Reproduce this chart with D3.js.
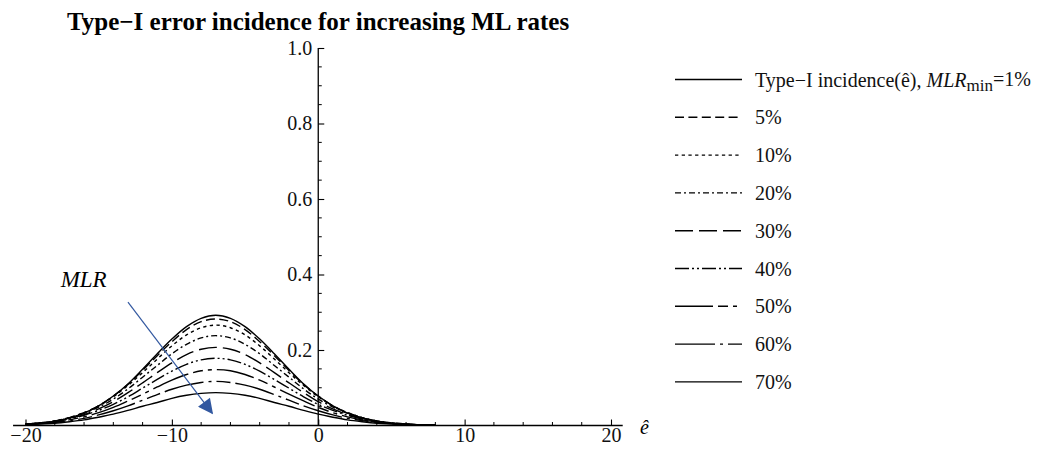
<!DOCTYPE html>
<html>
<head>
<meta charset="utf-8">
<script src="https://cdn.jsdelivr.net/npm/d3@7"></script>
<style>
  body { margin: 0; background: #fff; }
  svg { display: block; font-family: "Liberation Serif", "Times New Roman", serif; }
</style>
</head>
<body>
<div id="chart"></div>
<script>
width = 1050;
height = 456;

// e-hat sample points
const eHat = [-20,-19,-18,-17,-16,-15,-14,-13,-12,-11,-10,-9,-8,-7,-6,-5,-4,-3,-2,-1,0,1,2,3,4,5,6,7,8];

// Type-I incidence for each minimum ML rate
const mlr1  = [0.003,0.006,0.011,0.020,0.033,0.052,0.078,0.110,0.149,0.190,0.229,0.262,0.284,0.292,0.284,0.262,0.229,0.190,0.149,0.110,0.078,0.052,0.033,0.020,0.011,0.006,0.003,0.001,0.001];
const mlr5  = [0.003,0.006,0.012,0.021,0.034,0.052,0.078,0.109,0.146,0.185,0.222,0.254,0.275,0.282,0.275,0.254,0.222,0.185,0.146,0.109,0.078,0.052,0.034,0.021,0.012,0.006,0.003,0.002,0.001];
const mlr10 = [0.004,0.007,0.012,0.021,0.034,0.052,0.076,0.106,0.140,0.176,0.211,0.240,0.259,0.266,0.259,0.240,0.211,0.176,0.140,0.106,0.076,0.052,0.034,0.021,0.012,0.007,0.004,0.002,0.001];
const mlr20 = [0.004,0.007,0.012,0.020,0.032,0.049,0.070,0.097,0.128,0.159,0.190,0.215,0.232,0.238,0.232,0.215,0.190,0.159,0.128,0.097,0.070,0.049,0.032,0.020,0.012,0.007,0.004,0.002,0.001];
const mlr30 = [0.004,0.007,0.011,0.019,0.029,0.044,0.063,0.087,0.113,0.140,0.166,0.188,0.202,0.207,0.202,0.188,0.166,0.140,0.113,0.087,0.063,0.044,0.029,0.019,0.011,0.007,0.004,0.002,0.001];
const mlr40 = [0.003,0.006,0.011,0.017,0.027,0.040,0.056,0.076,0.099,0.122,0.144,0.162,0.174,0.178,0.174,0.162,0.144,0.122,0.099,0.076,0.056,0.040,0.027,0.017,0.011,0.006,0.003,0.002,0.001];
const mlr50 = [0.003,0.006,0.009,0.015,0.023,0.034,0.048,0.065,0.083,0.102,0.120,0.135,0.145,0.148,0.145,0.135,0.120,0.102,0.083,0.065,0.048,0.034,0.023,0.015,0.009,0.006,0.003,0.002,0.001];
const mlr60 = [0.003,0.005,0.008,0.013,0.019,0.028,0.039,0.052,0.067,0.082,0.096,0.107,0.114,0.117,0.114,0.107,0.096,0.082,0.067,0.052,0.039,0.028,0.019,0.013,0.008,0.005,0.003,0.002,0.001];
const mlr70 = [0.002,0.004,0.006,0.010,0.015,0.022,0.030,0.040,0.051,0.061,0.072,0.080,0.085,0.087,0.085,0.080,0.072,0.061,0.051,0.040,0.030,0.022,0.015,0.010,0.006,0.004,0.002,0.001,0.001];

const rateLabels = ["1%","5%","10%","20%","30%","40%","50%","60%","70%"];
const seriesValues = [mlr1, mlr5, mlr10, mlr20, mlr30, mlr40, mlr50, mlr60, mlr70];

const xMajor = [-20,-10,0,10,20];
const xMinor = [-18,-16,-14,-12,-8,-6,-4,-2,2,4,6,8,12,14,16,18];
const yMajor = [0.2,0.4,0.6,0.8,1.0];
const yMinor = [0.05,0.1,0.15,0.25,0.3,0.35,0.45,0.5,0.55,0.65,0.7,0.75,0.85,0.9,0.95];

// line styles, one per series
const dashStyles = ["none","9,4.4","3.3,3.4","6,3,2,3","18,6","14,3,2,3,2,3","38,5,10,5,4,5","40,5,3,5,14,5","none"];

const svg = d3.select("#chart")
  .append("svg")
  .attr("width", width)
  .attr("height", height);

const x = d3.scaleLinear().domain([-20, 20]).range([25.5, 611]);
const y = d3.scaleLinear().domain([0, 1]).range([425.5, 48]);

// title
svg.append("text")
  .attr("x", 67)
  .attr("y", 30)
  .style("font-weight", "bold")
  .style("font-size", "25px")
  .text("Type\u2212I error incidence for increasing ML rates");

// x axis
const xg = svg.append("g").attr("transform", `translate(0,${y(0)})`);
xg.append("line")
  .attr("x1", x(-20.85)).attr("x2", x(20.8))
  .attr("stroke", "#000").attr("stroke-width", 1.3);
xg.call(d3.axisBottom(x).tickValues(xMajor).tickSizeInner(-6).tickSizeOuter(0).tickPadding(2));
xg.call(g => g.select(".domain").remove());
xg.selectAll(".tick line").attr("stroke-width", 1.1);
xg.selectAll(".tick text")
  .style("font-size", "20px")
  .style("font-family", "Liberation Serif, serif")
  .attr("fill", "#111");
xg.selectAll(".minor")
  .data(xMinor)
  .join("line")
  .attr("class", "minor")
  .attr("x1", d => x(d)).attr("x2", d => x(d))
  .attr("y1", 0).attr("y2", -3.5)
  .attr("stroke", "#000").attr("stroke-width", 1);

svg.append("text")
  .attr("x", 640)
  .attr("y", 434)
  .style("font-style", "italic")
  .style("font-size", "20px")
  .text("\u00ea");

// y axis
const yg = svg.append("g").attr("transform", `translate(${x(0)},0)`);
yg.append("line")
  .attr("y1", y(0)).attr("y2", y(1))
  .attr("stroke", "#000").attr("stroke-width", 1.3);
yg.call(d3.axisLeft(y).tickValues(yMajor).tickFormat(d3.format(".1f")).tickSizeInner(-6).tickSizeOuter(0).tickPadding(6));
yg.call(g => g.select(".domain").remove());
yg.selectAll(".tick line").attr("stroke-width", 1.1);
yg.selectAll(".tick text")
  .style("font-size", "20px")
  .style("font-family", "Liberation Serif, serif")
  .attr("fill", "#111");
yg.selectAll(".minor")
  .data(yMinor)
  .join("line")
  .attr("class", "minor")
  .attr("y1", d => y(d)).attr("y2", d => y(d))
  .attr("x1", 0).attr("x2", 3.5)
  .attr("stroke", "#000").attr("stroke-width", 1);

// curves
const line = d3.line()
  .x(d => x(d[0]))
  .y(d => y(d[1]))
  .curve(d3.curveCatmullRom.alpha(0.5));

svg.append("g")
  .selectAll("path")
  .data(seriesValues)
  .join("path")
  .attr("d", vals => line(eHat.map((e, i) => [e, vals[i]])))
  .attr("fill", "none")
  .attr("stroke", "#000")
  .attr("stroke-width", 1.4)
  .attr("stroke-dasharray", (d, i) => dashStyles[i]);

// MLR arrow annotation
const defs = svg.append("defs");
defs.append("marker")
  .attr("id", "head")
  .attr("viewBox", "0 0 10 10")
  .attr("refX", 9).attr("refY", 5)
  .attr("markerWidth", 16).attr("markerHeight", 15)
  .attr("markerUnits", "userSpaceOnUse")
  .attr("orient", "auto")
  .append("path")
  .attr("d", "M0,0 L10,5 L0,10 Z")
  .attr("fill", "#3258a0");

svg.append("line")
  .attr("x1", x(-13.0)).attr("y1", y(0.327))
  .attr("x2", x(-7.25)).attr("y2", y(0.033))
  .attr("stroke", "#3258a0")
  .attr("stroke-width", 1.2)
  .attr("marker-end", "url(#head)");

svg.append("text")
  .attr("x", x(-17.6))
  .attr("y", 287)
  .style("font-style", "italic")
  .style("font-size", "23px")
  .text("MLR");

// legend
const legend = svg.append("g");
const rowY = i => 79.5 + i * 37.8;

legend.selectAll("line")
  .data(rateLabels)
  .join("line")
  .attr("x1", 675).attr("x2", 742)
  .attr("y1", (d, i) => rowY(i)).attr("y2", (d, i) => rowY(i))
  .attr("stroke", "#000")
  .attr("stroke-width", 1.4)
  .attr("stroke-dasharray", (d, i) => dashStyles[i]);

const lt = legend.selectAll("text")
  .data(rateLabels)
  .join("text")
  .attr("x", 755)
  .attr("y", (d, i) => rowY(i))
  .attr("dy", "0.35em")
  .style("font-size", "20px")
  .attr("fill", "#111");

lt.filter((d, i) => i > 0).text(d => d);
const first = lt.filter((d, i) => i === 0);
first.append("tspan").text("Type\u2212I incidence(\u00ea), ");
first.append("tspan").style("font-style", "italic").text("MLR");
first.append("tspan").attr("dy", "0.25em").style("font-size", "17px").text("min");
first.append("tspan").attr("dy", "-0.25em").text("=" + rateLabels[0]);
</script>
</body>
</html>
